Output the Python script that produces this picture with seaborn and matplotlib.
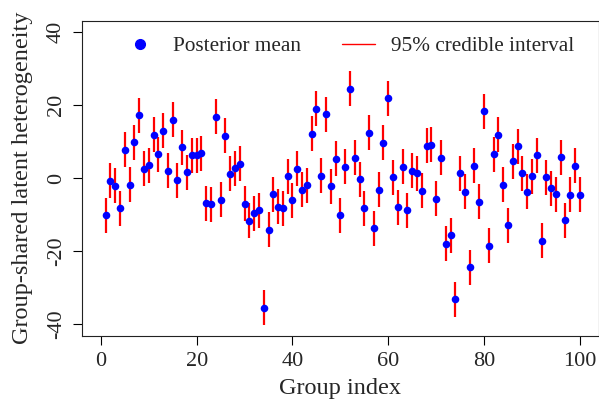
import matplotlib
matplotlib.use("Agg")
import matplotlib.pyplot as plt
from matplotlib.lines import Line2D
import seaborn as sns
import pandas as pd

# Posterior means, group index 1..100
group_index = list(range(1, 101))
posterior_mean = [
    -10.2, -0.7, -2.1, -8.3, 7.8, -1.8, 9.8, 17.3, 2.6, 3.6,
    11.9, 6.6, 13.0, 2.0, 16.1, -0.5, 8.5, 1.7, 6.3, 6.3,
    6.9, -6.9, -7.2, 16.8, -5.9, 11.7, 1.2, 2.7, 3.9, -7.0,
    -11.7, -9.6, -8.8, -35.6, -14.2, -4.4, -7.8, -8.2, 0.5, -6.1,
    2.6, -3.1, -2.0, 12.2, 19.0, 0.7, 17.5, -2.2, 5.3, -10.1,
    3.2, 24.6, 5.6, -0.3, -8.3, 12.4, -13.7, -3.2, 9.7, 21.9,
    0.2, -7.9, 3.2, -8.8, 2.1, 1.4, -3.5, 8.9, 9.2, -5.7,
    5.6, -18.0, -15.6, -33.2, 1.4, -3.7, -24.4, 3.4, -6.4, 18.3,
    -18.5, 6.6, 11.9, -1.8, -12.9, 4.7, 8.8, 1.4, -3.7, 0.5,
    6.3, -17.1, 0.3, -2.8, -4.4, 5.8, -11.5, -4.5, 3.4, -4.5,
]
# every interval is about the same width on the picture
ci_half_width = 4.8

x_ticks = [0, 20, 40, 60, 80, 100]
y_ticks = [-40, -20, 0, 20, 40]

df = pd.DataFrame({"group": group_index, "mean": posterior_mean})
df["lower"] = df["mean"] - ci_half_width
df["upper"] = df["mean"] + ci_half_width

sns.set_style("ticks")
plt.rcParams["font.family"] = ["Liberation Serif", "DejaVu Serif"]

fig = plt.figure(figsize=(5.99, 4.04), dpi=100)
ax = fig.add_axes([81.7 / 599, (404 - 335.7) / 404, (599 - 81.7) / 599, 315 / 404])

# credible intervals first, means on top
ax.vlines(df["group"], df["lower"], df["upper"], color="#ff0000", linewidth=1.6, zorder=2)
sns.scatterplot(data=df, x="group", y="mean", color="#0000ff", s=30, linewidth=0,
                ax=ax, zorder=3, legend=False)

ax.set_xlim(-4, 104)
ax.set_ylim(-43.2, 43.2)
ax.set_xticks(x_ticks)
ax.set_yticks(y_ticks)
ax.set_xticklabels([str(t) for t in x_ticks], fontsize=16)
ax.set_yticklabels([str(t) for t in y_ticks], fontsize=16, rotation=90, va="center")
ax.tick_params(length=6.5, width=0.8, color="black", pad=5)

for sp in ax.spines.values():
    sp.set_visible(True)
    sp.set_color("#222222")
    sp.set_linewidth(0.8)

ax.set_xlabel("Group index", fontsize=17.5)
ax.set_ylabel("Group-shared latent heterogeneity", fontsize=17.5)
ax.xaxis.set_label_coords(0.5, -0.135)
ax.yaxis.set_label_coords(-0.094, 0.5)

handles = [
    Line2D([], [], linestyle="none", marker="o", markersize=7, color="#0000ff"),
    Line2D([], [], color="#ff0000", linewidth=1.0),
]
fig.legend(handles, ["Posterior mean", "95% credible interval"], ncol=2,
           loc="center left", bbox_to_anchor=(124 / 599, 1 - 46 / 404),
           frameon=False, fontsize=15.3, borderpad=0, borderaxespad=0,
           handlelength=1.55, handletextpad=0.75, columnspacing=1.95)

fig.savefig("out.png", dpi=100)
